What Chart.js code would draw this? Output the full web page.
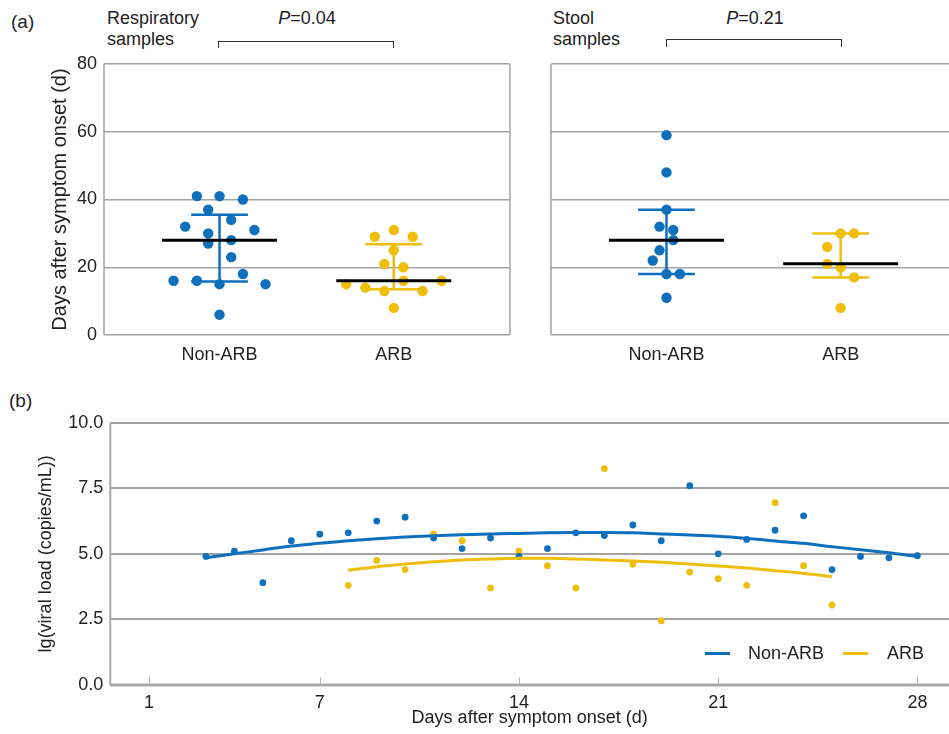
<!DOCTYPE html>
<html>
<head>
<meta charset="utf-8">
<script src="https://cdn.jsdelivr.net/npm/chart.js@4.4.1/dist/chart.umd.min.js"></script>
<style>
  html, body { margin: 0; padding: 0; background: #fff; }
  body { width: 949px; height: 734px; position: relative; overflow: hidden;
         font-family: "Liberation Sans", Arial, sans-serif; color: #222; }
  canvas { position: absolute; }
  .t { position: absolute; font-size: 18px; line-height: 21px; white-space: nowrap; }
  .br { position: absolute; box-sizing: border-box; border: 1.5px solid #333; border-bottom: none; height: 7.5px; }
  .key { position: absolute; width: 25px; height: 3px; }
</style>
</head>
<body>
<div class="t" style="left:11px;top:11px;font-size:19px;line-height:22px">(a)</div>
<div class="t" style="left:107px;top:8px">Respiratory<br>samples</div>
<div class="t" style="left:247px;top:8px;width:120px;text-align:center"><i>P</i>=0.04</div>
<div class="br" style="left:218.2px;top:40.7px;width:175.8px"></div>

<div class="t" style="left:553px;top:8px">Stool<br>samples</div>
<div class="t" style="left:695px;top:8px;width:120px;text-align:center"><i>P</i>=0.21</div>
<div class="br" style="left:665.5px;top:39.3px;width:176.3px"></div>

<div class="t" style="left:9px;top:390px;font-size:19px;line-height:22px">(b)</div>

<canvas id="respChart" width="520" height="372" style="left:0;top:0"></canvas>
<canvas id="stoolChart" width="429" height="372" style="left:520px;top:0"></canvas>
<canvas id="loadChart" width="949" height="354" style="left:0;top:380px"></canvas>

<div class="key" id="keyNon" style="left:705px;top:652px"></div>
<div class="t" style="left:748px;top:642px;line-height:22px">Non-ARB</div>
<div class="key" id="keyArb" style="left:843px;top:652px"></div>
<div class="t" style="left:887px;top:642px;line-height:22px">ARB</div>

<script>
// (a) 그룹
const groups = ["Non-ARB", "ARB"];
const yTicksA = [0, 20, 40, 60, 80];

// 호흡기 검체
const respNonArb = [41, 41, 40, 37, 34, 32, 30, 31, 27, 28, 23, 18, 16, 16, 15, 15, 6];
const respNonArbJitter = [-0.13, 0, 0.134, -0.065, 0.067, -0.197, -0.065, 0.2, -0.065, 0.067, 0.067, 0.134, -0.264, -0.13, 0, 0.264, 0];
const respArb = [31, 29, 29, 25, 21, 20, 16, 16, 15, 14, 13, 13, 8];
const respArbJitter = [0, -0.109, 0.109, 0, -0.054, 0.055, 0.055, 0.274, -0.273, -0.163, -0.054, 0.165, 0];
const respMedian = [28, 16];
const respQ1 = [15.8, 13.5];
const respQ3 = [35.5, 26.8];

// 대변 검체
const stoolNonArb = [59, 48, 37, 32, 31, 28, 25, 22, 18, 18, 11];
const stoolNonArbJitter = [0, 0, 0, -0.04, 0.039, 0.039, -0.04, -0.079, 0, 0.077, 0];
const stoolArb = [30, 30, 26, 21, 20, 17, 8];
const stoolArbJitter = [0, 0.077, -0.077, -0.077, 0, 0.077, 0];
const stoolMedian = [28, 21];
const stoolQ1 = [18, 17];
const stoolQ3 = [37, 30];

// (b) 바이러스 부하
const dayTicks = [1, 7, 14, 21, 28];
const yTicksB = [0, 2.5, 5, 7.5, 10];
const nonArbDays = [3, 4, 5, 6, 7, 8, 9, 10, 11, 12, 13, 14, 15, 16, 17, 18, 19, 20, 21, 22, 23, 24, 25, 26, 27, 28];
const nonArbLoad = [4.9, 5.1, 3.9, 5.5, 5.75, 5.8, 6.25, 6.4, 5.6, 5.2, 5.6, 4.9, 5.2, 5.8, 5.7, 6.1, 5.5, 7.6, 5.0, 5.55, 5.9, 6.45, 4.4, 4.9, 4.85, 4.93];
const nonArbFit = [4.85, 5.0, 5.15, 5.3, 5.4, 5.5, 5.58, 5.64, 5.69, 5.73, 5.76, 5.78, 5.8, 5.81, 5.81, 5.8, 5.76, 5.72, 5.67, 5.59, 5.49, 5.4, 5.27, 5.16, 5.04, 4.9];
const arbDays = [8, 9, 10, 11, 12, 13, 14, 15, 16, 17, 18, 19, 20, 21, 22, 23, 24, 25];
const arbLoad = [3.8, 4.75, 4.4, 5.75, 5.5, 3.7, 5.1, 4.55, 3.7, 8.25, 4.6, 2.45, 4.3, 4.05, 3.8, 6.95, 4.55, 3.05];
const arbFit = [4.38, 4.51, 4.61, 4.7, 4.77, 4.8, 4.83, 4.83, 4.8, 4.77, 4.73, 4.68, 4.61, 4.54, 4.46, 4.36, 4.26, 4.13];

const BLUE = "#0e70bd";
const YELLOW = "#efbe0c";
const GRID = "#a3a3a3";
const FONT = '"Liberation Sans", Arial, sans-serif';

Chart.defaults.font.family = FONT;
Chart.defaults.color = "#222";

document.getElementById("keyNon").style.background = BLUE;
document.getElementById("keyArb").style.background = YELLOW;

// 테두리 그리기
const frame = {
  id: "frame",
  beforeDatasetsDraw(chart, args, o) {
    const { ctx, chartArea: a } = chart;
    ctx.save();
    ctx.strokeStyle = o.color || GRID;
    const seg = (w, x1, y1, x2, y2) => {
      if (!w) return;
      ctx.lineWidth = w;
      ctx.beginPath();
      ctx.moveTo(x1, y1);
      ctx.lineTo(x2, y2);
      ctx.stroke();
    };
    seg(o.left, a.left, a.top, a.left, a.bottom);
    seg(o.right, a.right, a.top, a.right, a.bottom);
    seg(o.bottom, a.left, a.bottom, a.right, a.bottom);
    // 안쪽 눈금
    if (o.tickLength) {
      const xs = chart.scales.x;
      ctx.strokeStyle = "#b8b8b8";
      xs.ticks.forEach((t) => {
        const px = Math.round(xs.getPixelForValue(t.value)) + 0.5;
        seg(1, px, a.bottom - 1, px, a.bottom - o.tickLength);
      });
    }
    ctx.restore();
  },
};

function seg(x1, y1, x2, y2, color, width, order) {
  return {
    data: [{ x: x1, y: y1 }, { x: x2, y: y2 }],
    showLine: true,
    borderColor: color,
    borderWidth: width,
    pointRadius: 0,
    order: order,
  };
}

function swarmChart(id, sets, median, q1, q3, showY, padLeft, padRight, yWidth, xMax, frameOpts) {
  const colors = [BLUE, YELLOW];
  const datasets = [];
  sets.forEach(([vals, jit], g) => {
    datasets.push({
      data: vals.map((v, i) => ({ x: g + jit[i], y: v })),
      backgroundColor: colors[g],
      borderWidth: 0,
      pointRadius: 5.2,
      order: 1,
    });
    datasets.push(seg(g, q1[g], g, q3[g], colors[g], 2.5, 2));
    datasets.push(seg(g - 0.163, q3[g], g + 0.163, q3[g], colors[g], 2.5, 2));
    datasets.push(seg(g - 0.163, q1[g], g + 0.163, q1[g], colors[g], 2.5, 2));
    datasets.push(seg(g - 0.33, median[g], g + 0.33, median[g], "#000", 3, 0));
  });

  return new Chart(document.getElementById(id), {
    type: "scatter",
    data: { datasets },
    options: {
      responsive: false,
      animation: false,
      layout: { autoPadding: false, padding: { left: padLeft, top: 64, right: padRight, bottom: 0 } },
      plugins: { legend: { display: false }, tooltip: { enabled: false }, frame: frameOpts },
      scales: {
        x: {
          type: "linear",
          min: -0.663,
          max: xMax,
          afterBuildTicks: (s) => { s.ticks = groups.map((_, i) => ({ value: i })); },
          afterFit: (s) => { s.height = 37; },
          ticks: { callback: (v) => groups[v], font: { size: 18 }, padding: 9, maxRotation: 0 },
          grid: { display: false, drawTicks: false },
          border: { display: false },
        },
        y: {
          min: 0,
          max: 80,
          afterBuildTicks: (s) => { s.ticks = yTicksA.map((v) => ({ value: v })); },
          afterFit: (s) => { s.width = yWidth; },
          ticks: { display: showY, font: { size: 18 }, padding: 7 },
          grid: { color: GRID, lineWidth: 1.5, drawTicks: false },
          border: { display: false },
          title: { display: showY, text: "Days after symptom onset (d)", font: { size: 20 } },
        },
      },
    },
    plugins: [frame],
  });
}

swarmChart("respChart", [[respNonArb, respNonArbJitter], [respArb, respArbJitter]],
  respMedian, respQ1, respQ3, true, 44, 10, 60, 1.667, { left: 1.5, right: 1.5 });
swarmChart("stoolChart", [[stoolNonArb, stoolNonArbJitter], [stoolArb, stoolArbJitter]],
  stoolMedian, stoolQ1, stoolQ3, false, 0, 0, 31, 1.622, { left: 1.5 });

// (b) 산점도 + 추세선
new Chart(document.getElementById("loadChart"), {
  type: "scatter",
  data: {
    datasets: [
      {
        data: nonArbDays.map((d, i) => ({ x: d, y: nonArbFit[i] })),
        showLine: true, borderColor: BLUE, borderWidth: 3, pointRadius: 0,
        cubicInterpolationMode: "monotone", order: 0,
      },
      {
        data: arbDays.map((d, i) => ({ x: d, y: arbFit[i] })),
        showLine: true, borderColor: YELLOW, borderWidth: 3, pointRadius: 0,
        cubicInterpolationMode: "monotone", order: 0,
      },
      {
        data: nonArbDays.map((d, i) => ({ x: d, y: nonArbLoad[i] })),
        backgroundColor: BLUE, borderWidth: 0, pointRadius: 3.4, order: 1,
      },
      {
        data: arbDays.map((d, i) => ({ x: d, y: arbLoad[i] })),
        backgroundColor: YELLOW, borderWidth: 0, pointRadius: 3.4, order: 1,
      },
    ],
  },
  options: {
    responsive: false,
    animation: false,
    layout: { autoPadding: false, padding: { left: 31, top: 42.7, right: 0, bottom: 1 } },
    plugins: {
      legend: { display: false },
      tooltip: { enabled: false },
      frame: { left: 2, bottom: 3, color: "#a8a8a8", tickLength: 8 },
    },
    scales: {
      x: {
        type: "linear",
        min: -0.36,
        max: 29.11,
        afterBuildTicks: (s) => { s.ticks = dayTicks.map((v) => ({ value: v })); },
        afterFit: (s) => { s.height = 48; },
        ticks: { font: { size: 18 }, padding: 7, maxRotation: 0 },
        grid: { display: false, drawTicks: false },
        border: { display: false },
        title: { display: true, text: "Days after symptom onset (d)", font: { size: 18 } },
      },
      y: {
        min: 0,
        max: 10,
        afterBuildTicks: (s) => { s.ticks = yTicksB.map((v) => ({ value: v })); },
        afterFit: (s) => { s.width = 79.3; },
        ticks: { callback: (v) => v.toFixed(1), font: { size: 18 }, padding: 7 },
        grid: { color: GRID, lineWidth: 2, drawTicks: false },
        border: { display: false },
        title: { display: true, text: "lg(viral load (copies/mL))", font: { size: 18 } },
      },
    },
  },
  plugins: [frame],
});
</script>
</body>
</html>
